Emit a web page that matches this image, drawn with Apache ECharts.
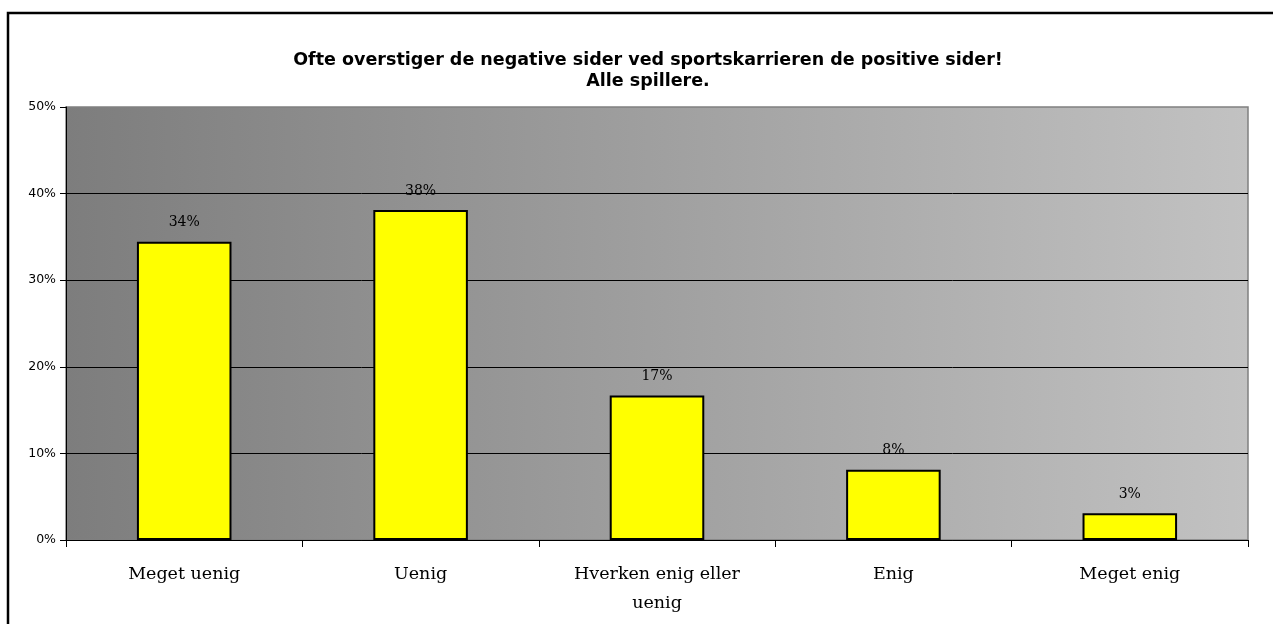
<!DOCTYPE html>
<html>
<head>
<meta charset="utf-8">
<script src="https://cdn.jsdelivr.net/npm/echarts@6/dist/echarts.min.js"></script>
<style>
html,body{margin:0;padding:0;background:#fff;}
#chart{width:1273px;height:624px;}
</style>
</head>
<body>
<div id="chart"></div>
<script>
const titleLines = ['Ofte overstiger de negative sider ved sportskarrieren de positive sider!', 'Alle spillere.'];
const categories = ['Meget uenig', 'Uenig', 'Hverken enig eller\nuenig', 'Enig', 'Meget enig'];
const values = [34.45, 38.1, 16.7, 8.1, 3.1];
const yTicks = [0, 10, 20, 30, 40, 50];

const chart = echarts.init(document.getElementById('chart'), null, {renderer: 'canvas'});
chart.setOption({
  animation: false,
  backgroundColor: '#ffffff',
  title: {
    text: titleLines.join('\n'),
    left: 643,
    top: 45,
    textAlign: 'center',
    textStyle: {fontFamily: 'DejaVu Sans', fontWeight: 'bold', fontSize: 17.5, lineHeight: 21, color: '#000'}
  },
  graphic: [{
    type: 'rect',
    shape: {x: 8, y: 13, width: 1300, height: 700},
    style: {fill: 'none', stroke: '#000', lineWidth: 2.5},
    z: 100
  }],
  grid: {
    left: 66, right: 25, top: 107, bottom: 84,
    show: true,
    backgroundColor: new echarts.graphic.LinearGradient(0, 0, 1, 0, [
      {offset: 0, color: '#7d7d7d'},
      {offset: 1, color: '#c2c2c2'}
    ]),
    borderColor: '#808080',
    borderWidth: 1.5
  },
  xAxis: {
    type: 'category',
    data: categories,
    boundaryGap: true,
    axisLine: {show: true, lineStyle: {color: '#000', width: 1}},
    axisTick: {show: true, alignWithLabel: false, length: 7, lineStyle: {color: '#000'}},
    axisLabel: {margin: 20, fontFamily: 'DejaVu Serif', fontSize: 17.5, lineHeight: 29, color: '#000', interval: 0}
  },
  yAxis: {
    type: 'value',
    min: yTicks[0],
    max: yTicks[yTicks.length - 1],
    interval: 10,
    axisLine: {show: true, lineStyle: {color: '#000', width: 1}},
    axisTick: {show: true, inside: false, length: 6, lineStyle: {color: '#000'}},
    axisLabel: {formatter: v => v + '%', margin: 10, fontFamily: 'DejaVu Sans', fontSize: 12.5, color: '#000'},
    splitLine: {show: true, showMaxLine: false, lineStyle: {color: '#000', width: 1}}
  },
  series: [{
    type: 'bar',
    data: values,
    barWidth: '40%',
    itemStyle: {color: '#ffff00', borderColor: '#000', borderWidth: 2},
    label: {
      show: true,
      position: 'top',
      distance: 12,
      formatter: p => Math.round(p.value) + '%',
      fontFamily: 'DejaVu Serif',
      fontSize: 14,
      color: '#000'
    }
  }]
});
</script>
</body>
</html>
